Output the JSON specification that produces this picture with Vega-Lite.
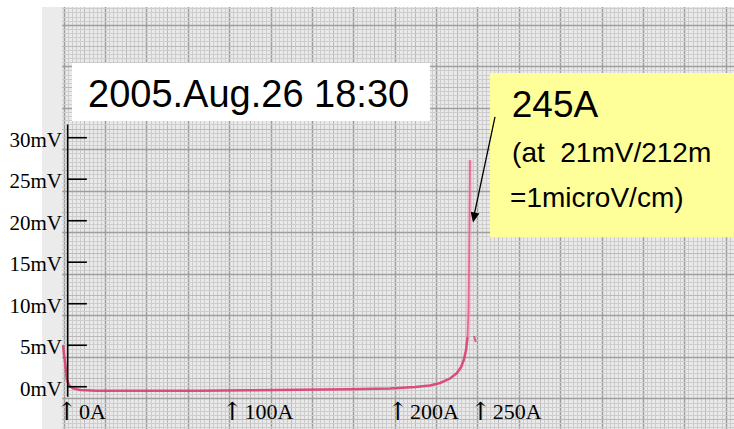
{
  "$schema": "https://vega.github.io/schema/vega-lite/v6.json",
  "width": 734,
  "height": 429,
  "autosize": "none",
  "padding": 0,
  "background": "white",
  "config": {"view": {"fill": "#e9e9e9", "stroke": null}},
  "datasets": {
    "trace": [
      {"seq": 1, "A": -2.4, "mV": 5.0, "part": "sweep"},
      {"seq": 2, "A": -1.9, "mV": 4.0, "part": "sweep"},
      {"seq": 3, "A": -1.2, "mV": 3.0, "part": "sweep"},
      {"seq": 4, "A": -0.6, "mV": 1.8, "part": "sweep"},
      {"seq": 5, "A": -0.1, "mV": 0.9, "part": "sweep"},
      {"seq": 6, "A": 1.2, "mV": 0.2, "part": "sweep"},
      {"seq": 7, "A": 3.6, "mV": -0.2, "part": "sweep"},
      {"seq": 8, "A": 8.0, "mV": -0.4, "part": "sweep"},
      {"seq": 9, "A": 18.0, "mV": -0.48, "part": "sweep"},
      {"seq": 10, "A": 50.0, "mV": -0.48, "part": "sweep"},
      {"seq": 11, "A": 80.0, "mV": -0.47, "part": "sweep"},
      {"seq": 12, "A": 110.0, "mV": -0.42, "part": "sweep"},
      {"seq": 13, "A": 140.0, "mV": -0.37, "part": "sweep"},
      {"seq": 14, "A": 171.0, "mV": -0.31, "part": "sweep"},
      {"seq": 15, "A": 195.0, "mV": -0.22, "part": "sweep"},
      {"seq": 16, "A": 210.3, "mV": -0.04, "part": "sweep"},
      {"seq": 17, "A": 219.3, "mV": 0.14, "part": "sweep"},
      {"seq": 18, "A": 225.4, "mV": 0.45, "part": "sweep"},
      {"seq": 19, "A": 231.4, "mV": 0.99, "part": "sweep"},
      {"seq": 20, "A": 235.6, "mV": 1.65, "part": "sweep"},
      {"seq": 21, "A": 238.1, "mV": 2.37, "part": "sweep"},
      {"seq": 22, "A": 239.9, "mV": 3.34, "part": "sweep"},
      {"seq": 23, "A": 241.1, "mV": 4.42, "part": "sweep"},
      {"seq": 24, "A": 242.0, "mV": 6.0, "part": "sweep"},
      {"seq": 24, "A": 242.0, "mV": 6.0, "part": "peak"},
      {"seq": 25, "A": 242.6, "mV": 9.2, "part": "peak"},
      {"seq": 26, "A": 242.9, "mV": 14.1, "part": "peak"},
      {"seq": 27, "A": 243.2, "mV": 20.1, "part": "peak"},
      {"seq": 28, "A": 243.5, "mV": 27.3, "part": "peak"},
      {"seq": 29, "A": 246.0, "mV": 6.1, "part": "hook"},
      {"seq": 30, "A": 246.9, "mV": 5.4, "part": "hook"}
    ],
    "yticks": [
      {"mV": 0, "label": "0mV"},
      {"mV": 5, "label": "5mV"},
      {"mV": 10, "label": "10mV"},
      {"mV": 15, "label": "15mV"},
      {"mV": 20, "label": "20mV"},
      {"mV": 25, "label": "25mV"},
      {"mV": 30, "label": "30mV"}
    ],
    "xticks": [
      {"A": 0, "label": "0A"},
      {"A": 100, "label": "100A"},
      {"A": 200, "label": "200A"},
      {"A": 250, "label": "250A"}
    ]
  },
  "encoding": {
    "x": {
      "type": "quantitative",
      "scale": {"domain": [-40.48, 403.0], "nice": false, "zero": false},
      "axis": {
        "title": null, "labels": false, "ticks": false, "domain": false, "grid": true,
        "values": [-39.5,-37,-34.5,-32,-29.5,-27,-24.5,-22,-19.5,-17,-14.5,-12,-9.5,-7,-4.5,-2,0.5,3,5.5,8,10.5,13,15.5,18,20.5,23,25.5,28,30.5,33,35.5,38,40.5,43,45.5,48,50.5,53,55.5,58,60.5,63,65.5,68,70.5,73,75.5,78,80.5,83,85.5,88,90.5,93,95.5,98,100.5,103,105.5,108,110.5,113,115.5,118,120.5,123,125.5,128,130.5,133,135.5,138,140.5,143,145.5,148,150.5,153,155.5,158,160.5,163,165.5,168,170.5,173,175.5,178,180.5,183,185.5,188,190.5,193,195.5,198,200.5,203,205.5,208,210.5,213,215.5,218,220.5,223,225.5,228,230.5,233,235.5,238,240.5,243,245.5,248,250.5,253,255.5,258,260.5,263,265.5,268,270.5,273,275.5,278,280.5,283,285.5,288,290.5,293,295.5,298,300.5,303,305.5,308,310.5,313,315.5,318,320.5,323,325.5,328,330.5,333,335.5,338,340.5,343,345.5,348,350.5,353,355.5,358,360.5,363,365.5,368,370.5,373,375.5,378,380.5,383,385.5,388,390.5,393,395.5,398,400.5],
        "gridColor": {
          "condition": [
            {"test": "abs((datum.value + 2) / 25 - round((datum.value + 2) / 25)) < 0.001", "value": "#9e9e9e"},
            {"test": "abs((datum.value + 2) / 12.5 - round((datum.value + 2) / 12.5)) < 0.001", "value": "#bababa"}
          ],
          "value": "#cdcdcd"
        },
        "gridWidth": {
          "condition": {"test": "abs((datum.value + 2) / 25 - round((datum.value + 2) / 25)) < 0.001", "value": 1.5},
          "value": 1
        }
      }
    },
    "y": {
      "type": "quantitative",
      "scale": {"domain": [-5.09, 46.59], "nice": false, "zero": false},
      "axis": {
        "title": null, "labels": false, "ticks": false, "domain": false, "grid": true,
        "values": [-4.9,-4.4,-3.9,-3.4,-2.9,-2.4,-1.9,-1.4,-0.9,-0.4,0.1,0.6,1.1,1.6,2.1,2.6,3.1,3.6,4.1,4.6,5.1,5.6,6.1,6.6,7.1,7.6,8.1,8.6,9.1,9.6,10.1,10.6,11.1,11.6,12.1,12.6,13.1,13.6,14.1,14.6,15.1,15.6,16.1,16.6,17.1,17.6,18.1,18.6,19.1,19.6,20.1,20.6,21.1,21.6,22.1,22.6,23.1,23.6,24.1,24.6,25.1,25.6,26.1,26.6,27.1,27.6,28.1,28.6,29.1,29.6,30.1,30.6,31.1,31.6,32.1,32.6,33.1,33.6,34.1,34.6,35.1,35.6,36.1,36.6,37.1,37.6,38.1,38.6,39.1,39.6,40.1,40.6,41.1,41.6,42.1,42.6,43.1,43.6,44.1,44.6,45.1,45.6,46.1],
        "gridColor": {
          "condition": [
            {"test": "abs((datum.value - 3.6) / 5 - round((datum.value - 3.6) / 5)) < 0.001", "value": "#9e9e9e"},
            {"test": "abs((datum.value - 3.6) / 2.5 - round((datum.value - 3.6) / 2.5)) < 0.001", "value": "#bababa"}
          ],
          "value": "#cdcdcd"
        },
        "gridWidth": {
          "condition": {"test": "abs((datum.value - 3.6) / 5 - round((datum.value - 3.6) / 5)) < 0.001", "value": 1.5},
          "value": 1
        }
      }
    }
  },
  "layer": [
    {
      "data": {"values": [{}]},
      "mark": {"type": "rect", "color": "white"},
      "encoding": {
        "x": {"datum": -40.48},
        "x2": {"datum": -15.1},
        "y": {"datum": -5.09},
        "y2": {"datum": 46.59}
      }
    },
    {
      "data": {"values": [{}]},
      "mark": {"type": "rect", "color": "#ebebeb"},
      "encoding": {
        "x": {"datum": -15.1},
        "x2": {"datum": -3.0},
        "y": {"datum": -5.09},
        "y2": {"datum": 45.75}
      }
    },
    {
      "data": {"values": [{}]},
      "mark": {"type": "rect", "color": "white"},
      "encoding": {
        "x": {"datum": -15.1},
        "x2": {"datum": 403.0},
        "y": {"datum": 45.75},
        "y2": {"datum": 46.59}
      }
    },
    {
      "data": {"values": [{}]},
      "mark": {"type": "rect", "color": "white"},
      "encoding": {
        "x": {"datum": 3.0},
        "x2": {"datum": 219.3},
        "y": {"datum": 32.0},
        "y2": {"datum": 39.0}
      }
    },
    {
      "data": {"values": [{}]},
      "mark": {"type": "rect", "color": "#ffff99"},
      "encoding": {
        "x": {"datum": 255.6},
        "x2": {"datum": 403.0},
        "y": {"datum": 18.0},
        "y2": {"datum": 37.8}
      }
    },
    {
      "data": {"name": "trace"},
      "transform": [{"filter": "datum.part === 'peak'"}],
      "mark": {"type": "line", "color": "#f19ab6", "strokeWidth": 5, "opacity": 0.4},
      "encoding": {
        "x": {"field": "A"},
        "y": {"field": "mV"},
        "order": {"field": "seq"}
      }
    },
    {
      "data": {"name": "trace"},
      "transform": [{"filter": "datum.part === 'sweep'"}],
      "mark": {"type": "line", "color": "#dc3d6f", "strokeWidth": 2.5, "opacity": 0.9},
      "encoding": {
        "x": {"field": "A"},
        "y": {"field": "mV"},
        "order": {"field": "seq"}
      }
    },
    {
      "data": {"name": "trace"},
      "transform": [{"filter": "datum.part === 'peak'"}],
      "mark": {"type": "line", "color": "#e65f8a", "strokeWidth": 1.7, "opacity": 0.9},
      "encoding": {
        "x": {"field": "A"},
        "y": {"field": "mV"},
        "order": {"field": "seq"}
      }
    },
    {
      "data": {"name": "trace"},
      "transform": [{"filter": "datum.part === 'hook'"}],
      "mark": {"type": "line", "color": "#dc3d6f", "strokeWidth": 2, "opacity": 0.8},
      "encoding": {
        "x": {"field": "A"},
        "y": {"field": "mV"},
        "order": {"field": "seq"}
      }
    },
    {
      "data": {"values": [{}]},
      "mark": {"type": "rule", "color": "black", "strokeWidth": 1.6},
      "encoding": {
        "x": {"datum": 0.4},
        "y": {"datum": -1.2},
        "y2": {"datum": 31.6}
      }
    },
    {
      "data": {"name": "yticks"},
      "mark": {"type": "rule", "color": "black", "strokeWidth": 1.6},
      "encoding": {
        "x": {"datum": 0.4},
        "x2": {"datum": 12.0},
        "y": {"field": "mV"}
      }
    },
    {
      "data": {"name": "yticks"},
      "mark": {"type": "text", "font": "Liberation Serif", "fontSize": 21, "align": "right", "baseline": "middle", "dy": 3, "color": "black"},
      "encoding": {
        "x": {"datum": -3.0},
        "y": {"field": "mV"},
        "text": {"field": "label"}
      }
    },
    {
      "data": {"name": "xticks"},
      "mark": {"type": "text", "font": "DejaVu Serif", "fontSize": 25, "align": "center", "baseline": "alphabetic", "color": "black"},
      "encoding": {
        "x": {"field": "A"},
        "y": {"datum": -4.05},
        "text": {"value": "↑"}
      }
    },
    {
      "data": {"name": "xticks"},
      "mark": {"type": "text", "font": "Liberation Serif", "fontSize": 22, "align": "left", "baseline": "alphabetic", "dx": 12, "color": "black"},
      "encoding": {
        "x": {"field": "A"},
        "y": {"datum": -3.89},
        "text": {"field": "label"}
      }
    },
    {
      "data": {"values": [{}]},
      "mark": {"type": "rule", "color": "black", "strokeWidth": 1.3},
      "encoding": {
        "x": {"datum": 258.6},
        "y": {"datum": 32.5},
        "x2": {"datum": 245.6},
        "y2": {"datum": 20.3}
      }
    },
    {
      "data": {"values": [{}]},
      "mark": {"type": "point", "shape": "M0,0L-0.45,-1L0.45,-1Z", "size": 400, "filled": true, "color": "black", "opacity": 1, "angle": 12},
      "encoding": {
        "x": {"datum": 245.3},
        "y": {"datum": 19.8}
      }
    },
    {
      "data": {"values": [{}]},
      "mark": {"type": "text", "font": "Liberation Sans", "fontSize": 38, "align": "left", "baseline": "alphabetic", "color": "black"},
      "encoding": {
        "x": {"datum": 12.7},
        "y": {"datum": 33.73},
        "text": {"value": "2005.Aug.26 18:30"}
      }
    },
    {
      "data": {"values": [{}]},
      "mark": {"type": "text", "font": "Liberation Sans", "fontSize": 37, "align": "left", "baseline": "alphabetic", "color": "black"},
      "encoding": {
        "x": {"datum": 268.7},
        "y": {"datum": 32.53},
        "text": {"value": "245A"}
      }
    },
    {
      "data": {"values": [{}]},
      "mark": {"type": "text", "font": "Liberation Sans", "fontSize": 28, "align": "left", "baseline": "alphabetic", "color": "black"},
      "encoding": {
        "x": {"datum": 268.9},
        "y": {"datum": 27.1},
        "text": {"value": "(at\u00a0\u00a021mV/212m"}
      }
    },
    {
      "data": {"values": [{}]},
      "mark": {"type": "text", "font": "Liberation Sans", "fontSize": 28, "align": "left", "baseline": "alphabetic", "color": "black"},
      "encoding": {
        "x": {"datum": 267.7},
        "y": {"datum": 21.69},
        "text": {"value": "=1microV/cm)"}
      }
    }
  ]
}
